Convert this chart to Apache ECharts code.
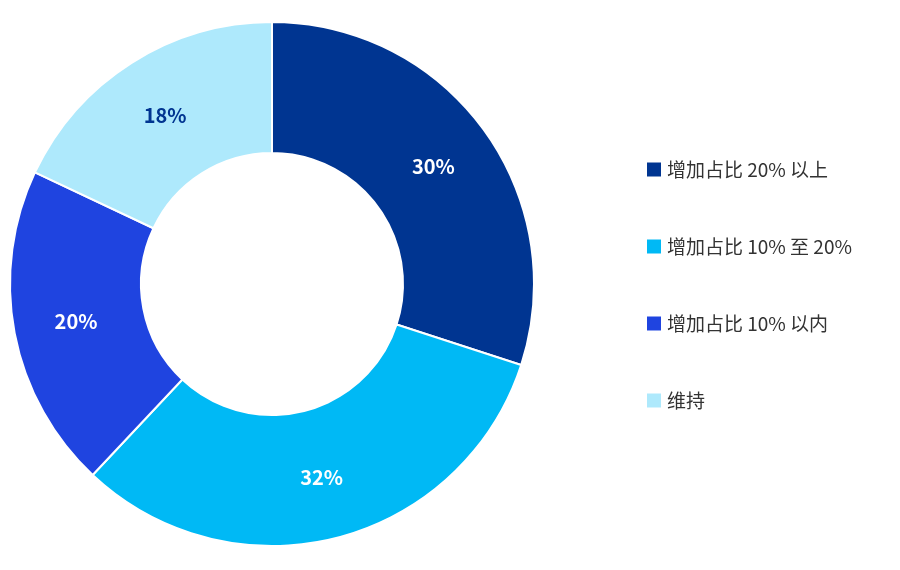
<!DOCTYPE html>
<html><head><meta charset="utf-8">
<script src="https://cdn.jsdelivr.net/npm/echarts@6/dist/echarts.min.js"></script>
<style>html,body{margin:0;padding:0;background:#fff}#c{width:900px;height:570px}</style>
</head><body><div id="c"></div>
<script>
const categories = ['增加占比 20% 以上','增加占比 10% 至 20%','增加占比 10% 以内','维持'];
const values = [30, 32, 20, 18];
const colors = ['#003591','#00b9f5','#1f44e0','#aee9fc'];
const labelColors = ['#fff','#fff','#fff','#003591'];
const chart = echarts.init(document.getElementById('c'));
chart.setOption({
  animation:false,
  legend:{orient:'vertical',left:640,top:'center',itemWidth:16,itemHeight:16,itemGap:58,icon:'rect',
    textStyle:{fontSize:19,color:'#333',fontFamily:'Noto Sans CJK SC'},data:categories},
  series:[{type:'pie',center:[272,284],radius:[131,262],startAngle:90,clockwise:true,
    itemStyle:{borderColor:'#fff',borderWidth:2},
    label:{position:'inside',fontSize:20,fontWeight:'bold',fontFamily:'Noto Sans CJK SC',
      formatter:p=>p.value+'%'},
    labelLine:{show:false},
    data:categories.map((n,i)=>({name:n,value:values[i],itemStyle:{color:colors[i]},label:{color:labelColors[i]}}))
  }]
});
</script></body></html>
